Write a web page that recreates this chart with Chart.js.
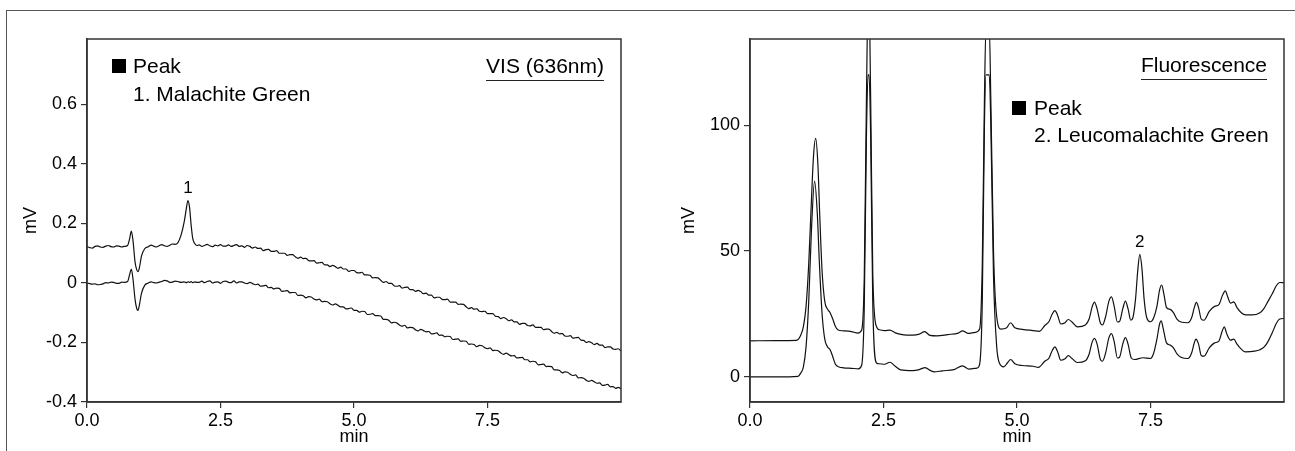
<!DOCTYPE html>
<html>
<head>
<meta charset="utf-8">
<script src="https://cdn.jsdelivr.net/npm/chart.js@4.4.1/dist/chart.umd.min.js"></script>
<style>
  html, body { margin:0; padding:0; background:#fff; }
  body { width:1295px; height:451px; position:relative; overflow:hidden; font-family:"Liberation Sans", Arial, sans-serif; color:#000; }
  #frame { position:absolute; left:6px; top:10px; width:1300px; height:460px; border-left:1.5px solid #555; border-top:1.5px solid #555; }
  canvas { position:absolute; top:0; }
  #c1 { left:0; }
  #c2 { left:647px; }
  .t { position:absolute; font-size:21px; line-height:24px; white-space:nowrap; }
  .sq { position:absolute; width:14px; height:14px; background:#000; }
  .u { border-bottom:1.5px solid #222; padding-bottom:2px; }
</style>
</head>
<body>
<div id="frame"></div>
<canvas id="c1" width="647" height="451"></canvas>
<canvas id="c2" width="648" height="451"></canvas>

<div class="sq" style="left:112px;top:59px"></div>
<div class="t" style="left:133px;top:54px">Peak</div>
<div class="t" style="left:133px;top:82px">1. Malachite Green</div>
<div class="t u" style="right:691px;top:54px">VIS (636nm)</div>

<div class="sq" style="left:1012px;top:101px"></div>
<div class="t" style="left:1034px;top:96px">Peak</div>
<div class="t" style="left:1034px;top:123px">2. Leucomalachite Green</div>
<div class="t u" style="right:28px;top:53px">Fluorescence</div>

<script>
// ---------- Data: VIS (636nm) chromatograms ----------
const visTime = [0,0.05,0.1,0.15,0.2,0.25,0.3,0.35,0.4,0.45,0.5,0.55,0.6,0.65,0.7,
  0.76,0.8,0.83,0.86,0.9,0.93,0.955,0.98,1.02,1.08,
  1.15,1.2,1.25,1.3,1.35,1.4,1.45,1.5,1.55,1.6,1.65,1.7,
  1.76,1.82,1.86,1.89,1.92,1.95,1.98,2.02,2.06,
  2.1,2.15,2.2,2.25,2.3,2.35,2.4,2.45,2.5,2.55,2.6,2.65,2.7,2.75,2.8,2.85,2.9,2.95,
  3.0,3.05,3.1,3.15,3.2,3.25,3.3,3.35,3.4,3.45,3.5,3.55,3.6,3.65,3.7,3.75,3.8,3.85,3.9,3.95,
  4.0,4.05,4.1,4.15,4.2,4.25,4.3,4.35,4.4,4.45,4.5,4.55,4.6,4.65,4.7,4.75,4.8,4.85,4.9,4.95,
  5.0,5.05,5.1,5.15,5.2,5.25,5.3,5.35,5.4,5.45,5.5,5.55,5.6,5.65,5.7,5.75,5.8,5.85,5.9,5.95,
  6.0,6.05,6.1,6.15,6.2,6.25,6.3,6.35,6.4,6.45,6.5,6.55,6.6,6.65,6.7,6.75,6.8,6.85,6.9,6.95,
  7.0,7.05,7.1,7.15,7.2,7.25,7.3,7.35,7.4,7.45,7.5,7.55,7.6,7.65,7.7,7.75,7.8,7.85,7.9,7.95,
  8.0,8.05,8.1,8.15,8.2,8.25,8.3,8.35,8.4,8.45,8.5,8.55,8.6,8.65,8.7,8.75,8.8,8.85,8.9,8.95,
  9.0,9.05,9.1,9.15,9.2,9.25,9.3,9.35,9.4,9.45,9.5,9.55,9.6,9.65,9.7,9.75,9.8,9.85,9.9,9.95,10.0];
const visUpper = [0.122,0.119,0.117,0.123,0.125,0.121,0.120,0.124,0.126,0.122,0.121,0.125,0.124,0.121,0.123,
  0.126,0.150,0.174,0.145,0.070,0.045,0.038,0.050,0.090,0.115,
  0.122,0.127,0.124,0.121,0.125,0.129,0.125,0.123,0.127,0.131,0.130,0.135,
  0.160,0.205,0.250,0.277,0.255,0.195,0.150,0.132,0.126,
  0.128,0.123,0.126,0.130,0.125,0.122,0.127,0.125,0.129,0.124,0.124,0.128,0.123,0.126,0.129,0.123,0.125,0.120,
  0.126,0.123,0.117,0.121,0.116,0.117,0.109,0.112,0.113,0.106,0.106,0.109,0.100,0.100,0.100,0.093,0.095,0.095,0.088,0.083,
  0.087,0.082,0.083,0.075,0.074,0.075,0.067,0.068,0.069,0.061,0.061,0.055,0.059,0.055,0.049,0.053,0.047,0.047,0.039,0.042,
  0.042,0.035,0.034,0.036,0.027,0.027,0.026,0.017,0.018,0.017,0.009,0.002,0.005,-0.001,-0.001,-0.009,-0.011,-0.009,-0.017,-0.015,
  -0.014,-0.022,-0.022,-0.028,-0.025,-0.029,-0.036,-0.034,-0.041,-0.041,-0.050,-0.048,-0.048,-0.055,-0.056,-0.054,-0.064,-0.064,-0.064,-0.072,
  -0.071,-0.072,-0.080,-0.086,-0.083,-0.088,-0.087,-0.095,-0.096,-0.095,-0.103,-0.103,-0.103,-0.112,-0.113,-0.120,-0.116,-0.120,-0.127,-0.124,
  -0.131,-0.131,-0.139,-0.136,-0.136,-0.143,-0.144,-0.141,-0.149,-0.149,-0.149,-0.157,-0.155,-0.155,-0.163,-0.169,-0.166,-0.171,-0.170,-0.178,
  -0.179,-0.177,-0.185,-0.184,-0.183,-0.192,-0.193,-0.200,-0.197,-0.201,-0.207,-0.203,-0.209,-0.209,-0.217,-0.215,-0.215,-0.222,-0.223,-0.221,-0.229];
const visLower = [0.000,-0.002,-0.004,-0.003,-0.006,-0.005,-0.003,0.001,0.000,0.003,0.002,-0.001,-0.001,0.003,0.002,
  0.005,0.030,0.047,0.015,-0.055,-0.085,-0.092,-0.075,-0.035,-0.008,
  0.000,0.004,0.001,0.000,0.003,0.005,0.009,0.007,0.002,0.003,0.006,0.005,
  0.002,0.004,0.001,0.004,0.002,0.005,0.001,0.004,0.002,
  0.002,0.006,0.001,0.005,0.007,0.000,0.003,0.004,-0.001,0.005,0.006,0.002,0.001,0.007,0.000,0.004,0.004,0.000,
  -0.002,0.002,-0.002,-0.006,-0.004,-0.011,-0.010,-0.008,-0.016,-0.015,-0.020,-0.017,-0.018,-0.028,-0.027,-0.026,-0.033,-0.032,-0.032,-0.042,
  -0.041,-0.043,-0.050,-0.046,-0.047,-0.054,-0.057,-0.054,-0.063,-0.062,-0.063,-0.070,-0.074,-0.070,-0.075,-0.080,-0.080,-0.087,-0.086,-0.084,
  -0.092,-0.092,-0.098,-0.095,-0.096,-0.106,-0.105,-0.103,-0.110,-0.110,-0.111,-0.122,-0.122,-0.125,-0.134,-0.132,-0.134,-0.141,-0.145,-0.142,
  -0.151,-0.149,-0.150,-0.157,-0.161,-0.156,-0.160,-0.164,-0.163,-0.171,-0.170,-0.168,-0.176,-0.175,-0.181,-0.179,-0.180,-0.190,-0.189,-0.188,
  -0.196,-0.195,-0.196,-0.206,-0.205,-0.207,-0.214,-0.210,-0.211,-0.218,-0.221,-0.218,-0.227,-0.226,-0.228,-0.235,-0.240,-0.236,-0.241,-0.245,
  -0.244,-0.252,-0.251,-0.250,-0.258,-0.258,-0.265,-0.263,-0.265,-0.275,-0.274,-0.273,-0.281,-0.280,-0.281,-0.292,-0.292,-0.294,-0.302,-0.299,
  -0.300,-0.307,-0.311,-0.309,-0.319,-0.318,-0.320,-0.327,-0.331,-0.327,-0.332,-0.337,-0.336,-0.344,-0.343,-0.341,-0.349,-0.348,-0.354,-0.351,-0.356];
const visYTicks = [-0.4,-0.2,0,0.2,0.4,0.6];
const visPeakLabels = ['1'];
const visPeakTimes = [1.89];
const visPeakHeights = [0.277];

// ---------- Data: Fluorescence chromatograms ----------
const flTimeUpper = [0,0.5,0.87,0.95,1.0,1.05,1.1,1.15,1.19,1.23,1.27,1.31,1.35,1.4,1.45,1.5,1.55,1.6,1.65,1.75,1.9,2.02,2.09,2.14,2.18,2.22,2.26,2.3,2.37,2.42,2.52,2.62,2.72,2.85,3.05,3.17,3.27,3.37,3.5,3.7,3.9,3.98,4.08,4.22,4.3,4.35,4.39,4.42,4.48,4.51,4.56,4.62,4.7,4.8,4.88,4.96,5.1,5.3,5.42,5.52,5.6,5.66,5.71,5.76,5.82,5.9,5.96,6.03,6.13,6.28,6.35,6.41,6.45,6.5,6.56,6.6,6.66,6.72,6.77,6.82,6.88,6.92,6.98,7.03,7.08,7.13,7.17,7.22,7.26,7.3,7.34,7.38,7.43,7.5,7.56,7.62,7.67,7.71,7.75,7.8,7.87,7.93,8.0,8.07,8.2,8.27,8.32,8.36,8.4,8.45,8.5,8.6,8.7,8.78,8.85,8.9,8.95,9.0,9.06,9.12,9.2,9.28,9.4,9.55,9.62,9.7,9.78,9.85,9.92,10.0];
const flUpper = [14.3,14.4,14.5,16.5,20,28,45,70,88,94.8,85,62,42,30,27,25.5,23,20,18.6,18.3,18.0,17.4,18.5,40,110,160,110,40,19.9,18.7,18.4,18.6,17.5,16.8,16.6,17.0,18.0,16.5,16.3,16.8,17.4,18.3,17.3,17.7,19,45,110,140,140,110,50,24,19,19.4,21.5,19.5,18.9,18.4,18.1,20.4,22,25,26.3,24.5,21,21.5,22.8,21.8,19.9,20.6,23,28,29.7,27,21.5,20.6,24,30,31.8,28,21.8,22,27,30.1,27,22.5,23.5,31,42,48.7,43,31,23.5,21.9,23.5,28,34.5,36.5,33,27.5,26.8,25.5,22.8,21.8,21.5,23.5,27.5,29.6,27.5,23,22.5,26,28,28.7,32.5,34.2,31.5,29.3,29.8,27.5,25.5,24.6,24.6,25.5,27,30,33,36,37.5,37.4];
const flTimeLower = [0,0.5,0.9,0.95,1.0,1.05,1.1,1.15,1.21,1.26,1.3,1.35,1.4,1.45,1.5,1.55,1.6,1.67,1.75,1.9,2.03,2.09,2.14,2.18,2.21,2.23,2.26,2.3,2.37,2.42,2.52,2.62,2.72,2.82,3.05,3.17,3.28,3.38,3.45,3.6,3.82,3.98,4.1,4.25,4.3,4.35,4.39,4.42,4.48,4.51,4.56,4.62,4.67,4.75,4.82,4.88,4.96,5.1,5.3,5.4,5.52,5.6,5.66,5.71,5.76,5.82,5.9,5.96,6.03,6.13,6.28,6.35,6.41,6.45,6.5,6.56,6.6,6.66,6.72,6.77,6.82,6.88,6.92,6.98,7.03,7.08,7.14,7.2,7.36,7.5,7.56,7.62,7.67,7.7,7.74,7.8,7.87,7.93,8.0,8.07,8.2,8.27,8.32,8.35,8.4,8.45,8.5,8.6,8.7,8.78,8.84,8.88,8.93,9.0,9.06,9.12,9.2,9.28,9.45,9.55,9.63,9.7,9.78,9.85,9.92,10.0];
const flLower = [0,0,0.2,1.5,4,12,30,58,77.8,65,45,25,15,12,10.8,8,5,3.9,3.6,3.4,3.2,4.5,28,95,120,120,95,28,5.5,5.2,5.0,5.8,4.2,2.8,2.5,2.9,3.7,2.5,2.0,2.4,2.9,4.4,3.1,3.5,5,30,100,120,120,100,40,12,5.5,4,5.5,6.9,5.2,4.5,4.2,3.8,6.2,7.5,10.5,11.9,10,6.6,7.2,8.4,7.3,5.7,6.4,9,14,15.3,13,7,6.2,9.5,15.5,17.2,14,7.5,7.8,13,15.6,13,7.5,6.9,7.6,7.3,9.5,15,21,22.3,19,13.5,12.6,11.5,9,7.8,7.3,9.5,13.5,15,13,8.5,8.2,11.5,13.5,14.2,18,19.9,17,14.6,15,13,11,9.9,10.2,10.8,11.9,14,17.5,21,23,23.2];
const flYTicks = [0,50,100];
const flPeakLabels = ['2'];
const flPeakTimes = [7.3];
const flPeakHeights = [48.7];

const xTicks = [0,2.5,5,7.5];

// ---------- Chart construction ----------
const FONT = '"Liberation Sans", Arial, sans-serif';
const AX = '#333';

function pts(t, v) { return t.map((x, i) => ({x: x, y: v[i]})); }

const framePlugin = {
  id: 'frame',
  afterDatasetsDraw(chart) {
    const a = chart.chartArea, ctx = chart.ctx;
    ctx.save();
    ctx.strokeStyle = AX; ctx.lineWidth = 1.5;
    ctx.strokeRect(a.left, a.top, a.right - a.left, a.bottom - a.top);
    const o = chart.options.plugins.peakLabels;
    ctx.fillStyle = '#000';
    ctx.font = '17px ' + FONT;
    ctx.textAlign = 'center'; ctx.textBaseline = 'middle';
    o.labels.forEach((lab, i) => {
      const px = chart.scales.x.getPixelForValue(o.times[i]);
      const py = chart.scales.y.getPixelForValue(o.heights[i]);
      ctx.fillText(lab, px, py - 12);
    });
    ctx.restore();
  }
};

function makeChart(id, series, yMin, yMax, yTicks, yFmt, yWidth, padRight, titlePadY, labels) {
  return new Chart(document.getElementById(id), {
    type: 'line',
    data: {
      datasets: series.map(s => ({
        data: s, borderColor: '#111', borderWidth: 1.2, pointRadius: 0,
        fill: false, cubicInterpolationMode: 'monotone'
      }))
    },
    options: {
      responsive: false, animation: false, devicePixelRatio: 1,
      events: [],
      layout: { padding: { top: 39, right: padRight, left: 0, bottom: 0 } },
      plugins: { legend: { display: false }, tooltip: { enabled: false },
                 peakLabels: labels },
      scales: {
        x: {
          type: 'linear', min: 0, max: 10,
          afterBuildTicks: s => { s.ticks = xTicks.map(v => ({value: v})); },
          afterFit: s => { s.height = 49; },
          ticks: { callback: v => v.toFixed(1), color: '#000', font: { family: FONT, size: 18 }, padding: 2, maxRotation: 0 },
          grid: { display: true, drawOnChartArea: false, drawTicks: true, tickLength: 6, color: AX, lineWidth: 1.2 },
          border: { display: true, color: AX, width: 1.5 },
          title: { display: true, text: 'min', color: '#000', font: { family: FONT, size: 18 }, padding: { top: 0, bottom: 3 } }
        },
        y: {
          type: 'linear', min: yMin, max: yMax,
          afterBuildTicks: s => { s.ticks = yTicks.map(v => ({value: v})); },
          afterFit: s => { s.width = yWidth; },
          ticks: { callback: yFmt, color: '#000', font: { family: FONT, size: 18 }, padding: 4 },
          grid: { display: true, drawOnChartArea: false, drawTicks: true, tickLength: 6, color: AX, lineWidth: 1.2 },
          border: { display: true, color: AX, width: 1.5 },
          title: { display: true, text: 'mV', color: '#000', font: { family: FONT, size: 18 }, padding: { top: titlePadY, bottom: 0 } }
        }
      }
    },
    plugins: [framePlugin]
  });
}

makeChart('c1', [pts(visTime, visUpper), pts(visTime, visLower)], -0.4, 0.82, visYTicks,
  v => (v === 0 ? '0' : v.toFixed(1)), 87, 26, 20,
  { labels: visPeakLabels, times: visPeakTimes, heights: visPeakHeights });

makeChart('c2', [pts(flTimeUpper, flUpper), pts(flTimeLower, flLower)], -10, 134.3, flYTicks,
  v => String(v), 103, 11, 31,
  { labels: flPeakLabels, times: flPeakTimes, heights: flPeakHeights });
</script>
</body>
</html>
